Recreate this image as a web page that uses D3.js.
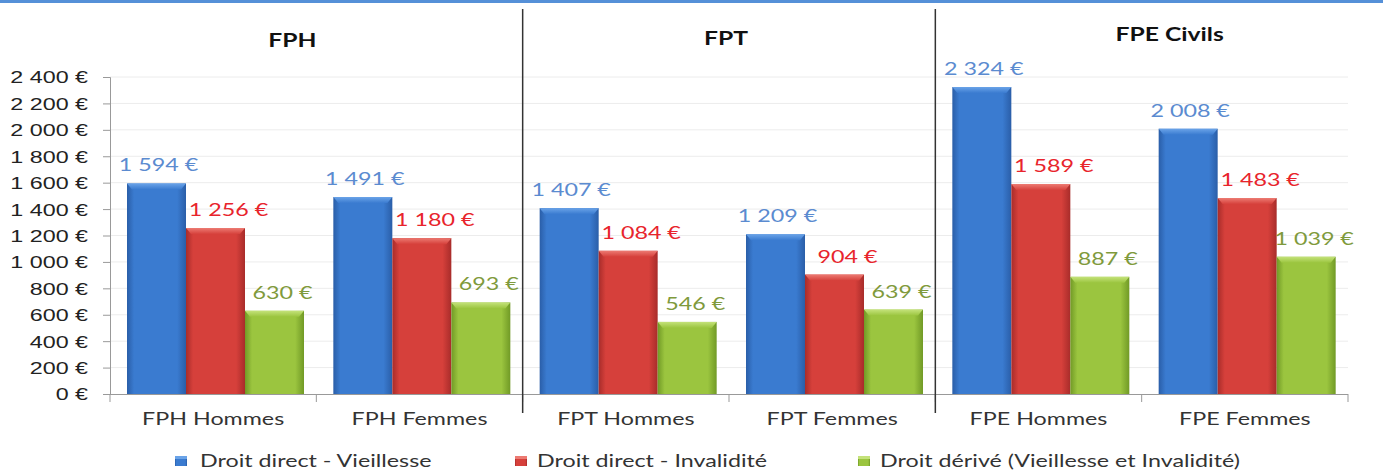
<!DOCTYPE html>
<html><head><meta charset="utf-8">
<script src="https://cdn.jsdelivr.net/npm/d3@7"></script>
<style>
html,body{margin:0;padding:0;background:#fff;}
svg{display:block;font-family:Lato,"Open Sans",sans-serif;}
</style></head>
<body>
<svg id="c" width="1383" height="476"></svg>
<script>
const categories = ["FPH Hommes","FPH Femmes","FPT Hommes","FPT Femmes","FPE Hommes","FPE Femmes"];
const seriesNames = ["Droit direct - Vieillesse","Droit direct - Invalidité","Droit dérivé (Vieillesse et Invalidité)"];
const vieillesse = [1594,1491,1407,1209,2324,2008];
const invalidite = [1256,1180,1084,904,1589,1483];
const derive = [630,693,546,639,887,1039];
const groupTitles = ["FPH","FPT","FPE Civils"];
const yTicks = [0,200,400,600,800,1000,1200,1400,1600,1800,2000,2200,2400];

const series = [vieillesse, invalidite, derive];
const colors = [
  {base:"#3a7bd0", dark:"#2a5ea8", light:"#6aa3e8", label:"#5b8bd0"},
  {base:"#d6403b", dark:"#a82c2a", light:"#ec7a72", label:"#e8242c"},
  {base:"#9bc53f", dark:"#719a26", light:"#c4e27a", label:"#7f9a3c"}
];
const labelDx = [2, 13, 8];
const SX = 1.37; // horizontal stretch of the original text

const svg = d3.select("#c");
const fmt = v => d3.format(",")(v).replace(/,/g, " ") + " €";

function stretchedText(parent, x, y, txt, anchor, size, fill, weight){
  return parent.append("text")
    .attr("transform", `translate(${x},${y}) scale(${SX},1)`)
    .attr("text-anchor", anchor).attr("font-size", size)
    .attr("font-weight", weight || "normal").attr("fill", fill).text(txt);
}

// top border
svg.append("rect").attr("x",0).attr("y",0).attr("width",1383).attr("height",3).attr("fill","#5590d8");

const x0 = d3.scaleBand().domain(categories).range([110,1348]).paddingInner(0).paddingOuter(0);
const x1 = d3.scaleBand().domain([0,1,2]).range([17, 17+177]);
const y = d3.scaleLinear().domain([0,2400]).range([394,77]);

// defs gradients
const defs = svg.append("defs");
colors.forEach((c,i)=>{
  const g = defs.append("linearGradient").attr("id","g"+i).attr("x1","0").attr("x2","1").attr("y1","0").attr("y2","0");
  g.append("stop").attr("offset","0").attr("stop-color",c.dark);
  g.append("stop").attr("offset","0.12").attr("stop-color",c.base);
  g.append("stop").attr("offset","0.85").attr("stop-color",c.base);
  g.append("stop").attr("offset","1").attr("stop-color",c.dark);
  const t = defs.append("linearGradient").attr("id","t"+i).attr("x1","0").attr("x2","0").attr("y1","0").attr("y2","1");
  t.append("stop").attr("offset","0").attr("stop-color",c.light);
  t.append("stop").attr("offset","1").attr("stop-color",c.base);
});

// gridlines
svg.append("g").selectAll("line").data(yTicks.slice(1)).join("line")
  .attr("x1",110).attr("x2",1348).attr("y1",d=>y(d)).attr("y2",d=>y(d))
  .attr("stroke","#ececec").attr("stroke-width",1);

// y axis
const yAxis = d3.axisLeft(y).tickValues(yTicks).tickSize(7).tickFormat(fmt);
const ya = svg.append("g").attr("transform","translate(110,0)").call(yAxis);
ya.select(".domain").attr("stroke","#999");
ya.selectAll(".tick line").attr("stroke","#999");
ya.selectAll(".tick text").attr("font-size",17).attr("fill","#222").attr("x",0).attr("dy","0.35em")
  .attr("transform",`translate(-22,0) scale(${SX},1)`);

// bars
categories.forEach((cat,ci)=>{
  series.forEach((s,si)=>{
    const v = s[ci];
    const bx = x0(cat) + x1(si);
    const bw = x1.bandwidth();
    const by = y(v);
    const bh = y(0) - by;
    const g = svg.append("g");
    g.append("rect").attr("x",bx).attr("y",by).attr("width",bw).attr("height",bh).attr("fill",`url(#g${si})`);
    g.append("path").attr("d",`M${bx},${by} L${bx+bw},${by} L${bx+bw-5},${by+6} L${bx+5},${by+6} Z`).attr("fill",`url(#t${si})`);
    stretchedText(g, bx+bw/2+labelDx[si], by-12, fmt(v), "middle", 17, colors[si].label);
  });
});

// x axis
svg.append("line").attr("x1",110).attr("x2",1348).attr("y1",394.5).attr("y2",394.5).attr("stroke","#999");
const bounds = d3.range(categories.length+1).map(i=> i<categories.length ? x0(categories[i]) : 1348);
svg.append("g").selectAll("line").data(bounds).join("line")
  .attr("x1",d=>d).attr("x2",d=>d).attr("y1",394).attr("y2",402).attr("stroke","#999");
const xl = svg.append("g");
categories.forEach(d=> stretchedText(xl, x0(d)+x0.bandwidth()/2, 425, d, "middle", 17, "#333"));

// dividers
[2,4].forEach(i=>{
  const xd = x0(categories[i]);
  svg.append("line").attr("x1",xd).attr("x2",xd).attr("y1",9).attr("y2",413).attr("stroke","#333").attr("stroke-width",1.5);
});

// group titles
const titleY = [47,45,41];
const titleDx = [-24,-3,28];
groupTitles.forEach((t,i)=>{
  const xa = x0(categories[i*2]), xb = x0(categories[i*2+1]) + x0.bandwidth();
  stretchedText(svg, (xa+xb)/2 + titleDx[i], titleY[i], t, "middle", 18, "#111", "bold");
});

// legend
const legX = [175,515,858];
const legTextX = [200,537,880];
seriesNames.forEach((n,i)=>{
  svg.append("rect").attr("x",legX[i]).attr("y",456).attr("width",12).attr("height",10).attr("fill",`url(#g${i})`);
  svg.append("rect").attr("x",legX[i]).attr("y",456).attr("width",12).attr("height",3).attr("fill",colors[i].light);
  stretchedText(svg, legTextX[i], 467, n, "start", 17, "#333");
});
</script>
</body></html>
